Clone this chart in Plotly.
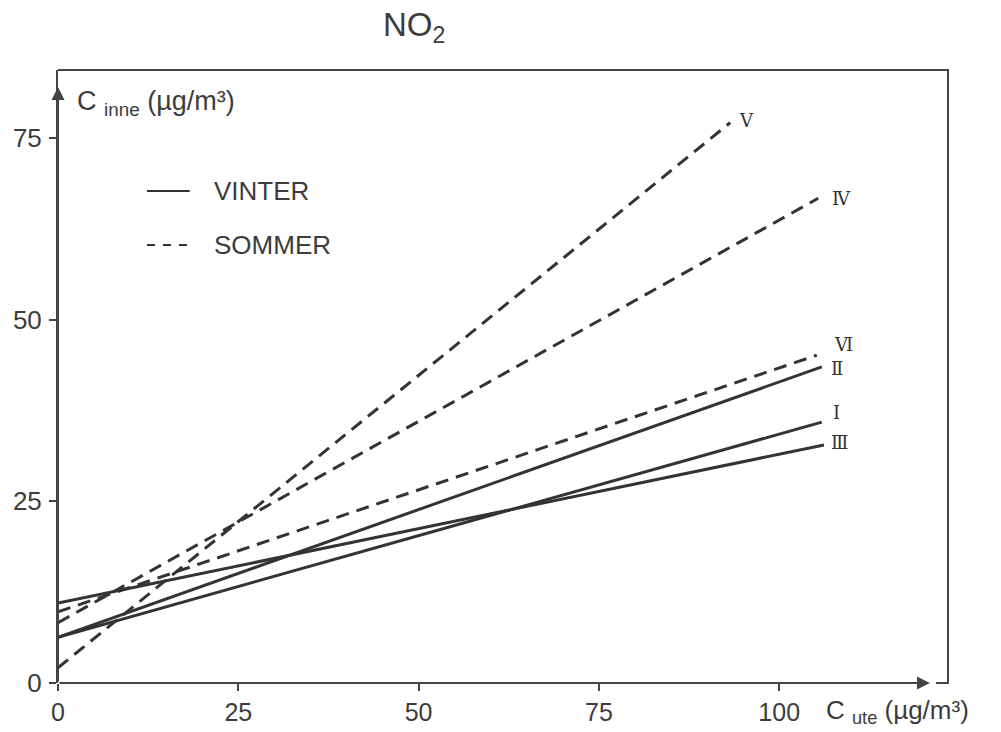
import plotly.graph_objects as go

# ---- data ----
series = ["I", "II", "III", "IV", "V", "VI"]
numerals = ["Ⅰ", "Ⅱ", "Ⅲ", "Ⅳ", "Ⅴ", "Ⅵ"]
season = ["VINTER", "VINTER", "VINTER", "SOMMER", "SOMMER", "SOMMER"]
x_start = [0, 0, 0, 0, 0, 0]
y_start = [6.3, 6.3, 11.0, 8.3, 2.1, 9.8]
x_end = [105.9, 105.9, 106.2, 105.4, 93.2, 105.2]
y_end = [35.9, 43.5, 32.75, 66.7, 77.1, 45.1]

x_ticks = [0, 25, 50, 75, 100]
y_ticks = [0, 25, 50, 75]
x_max = 123.4
y_max = 84.35
x_arrow = 120.9
y_arrow = 82.0

# ---- styles ----
ink = "#333333"
txt = "#3c3c3c"
font_main = "Liberation Sans, Arial, sans-serif"
label_shift = {"I": (15, 10), "II": (15, -2), "III": (16, 2), "IV": (23, 0), "V": (16, 2), "VI": (27, 11)}

fig = go.Figure()
for i, name in enumerate(series):
    dash = "solid" if season[i] == "VINTER" else "13px,8px"
    fig.add_trace(go.Scatter(
        x=[x_start[i], x_end[i]], y=[y_start[i], y_end[i]],
        mode="lines", line=dict(color=ink, width=3, dash=dash),
        name=name, showlegend=False, hoverinfo="skip"))
    dx, dy = label_shift[name]
    fig.add_annotation(x=x_end[i], y=y_end[i], text=numerals[i], showarrow=False,
                       xshift=dx, yshift=dy, xanchor="center", yanchor="middle",
                       font=dict(family="DejaVu Serif", size=18, color=ink))

# axis arrows
fig.add_annotation(x=x_arrow, y=0, ax=0, ay=0, xref="x", yref="y", axref="x", ayref="y",
                   text="", showarrow=True, arrowhead=2, arrowsize=1.3, arrowwidth=2,
                   arrowcolor="#444444")
fig.add_annotation(x=0, y=y_arrow, ax=0, ay=0, xref="x", yref="y", axref="x", ayref="y",
                   text="", showarrow=True, arrowhead=2, arrowsize=1.3, arrowwidth=2,
                   arrowcolor="#444444")

# frame (top, right, short bottom stub)
fig.add_shape(type="path", xref="paper", yref="paper",
              path="M 0,1 L 1,1 L 1,0 L 0.9865,0",
              line=dict(color="#444444", width=2))

# legend (manual)
fig.add_shape(type="line", xref="paper", yref="paper", x0=0.100, x1=0.148, y0=0.8026, y1=0.8026,
              line=dict(color=ink, width=2))
fig.add_shape(type="line", xref="paper", yref="paper", x0=0.100, x1=0.148, y0=0.7145, y1=0.7145,
              line=dict(color=ink, width=2, dash="8px,8px"))
fig.add_annotation(xref="paper", yref="paper", x=0.173, y=0.8026, text="VINTER", showarrow=False,
                   xanchor="left", yanchor="middle", font=dict(family=font_main, size=26, color=txt))
fig.add_annotation(xref="paper", yref="paper", x=0.173, y=0.7145, text="SOMMER", showarrow=False,
                   xanchor="left", yanchor="middle", font=dict(family=font_main, size=26, color=txt))

# axis titles
fig.add_annotation(xref="paper", yref="paper", x=0.019, y=0.946,
                   text="C <sub>inne</sub> (µg/m³)", showarrow=False, xanchor="left", yanchor="middle",
                   font=dict(family=font_main, size=27, color=txt))
fig.add_annotation(xref="paper", yref="paper", x=0.861, y=-0.047,
                   text="C <sub>ute</sub> (µg/m³)", showarrow=False, xanchor="left", yanchor="middle",
                   font=dict(family=font_main, size=26, color=txt))
# title
fig.add_annotation(xref="paper", yref="paper", x=0.40, y=1.07,
                   text="NO<sub>2</sub>", showarrow=False, xanchor="center", yanchor="middle",
                   font=dict(family=font_main, size=33, color=txt))

fig.update_layout(
    width=1001, height=732,
    margin=dict(l=58, r=53, t=70, b=49, autoexpand=False),
    paper_bgcolor="white", plot_bgcolor="white",
    showlegend=False,
    xaxis=dict(range=[0, x_max], tickvals=x_ticks, ticktext=[str(v) for v in x_ticks],
               showgrid=False, zeroline=False, showline=False, automargin=False,
               ticks="outside", ticklen=7, tickwidth=2, tickcolor="#444444",
               ticklabelstandoff=0,
               tickfont=dict(family=font_main, size=25, color=txt)),
    yaxis=dict(range=[0, y_max], tickvals=y_ticks, ticktext=[str(v) for v in y_ticks],
               showgrid=False, zeroline=False, showline=True, linecolor="#444444", linewidth=2,
               automargin=False,
               ticks="outside", ticklen=7, tickwidth=2, tickcolor="#444444",
               ticklabelstandoff=2,
               tickfont=dict(family=font_main, size=26, color=txt)),
)

fig.write_html("out.html", config={"displayModeBar": False},
               post_script="document.body.style.margin='0';document.body.style.overflow='hidden';")
